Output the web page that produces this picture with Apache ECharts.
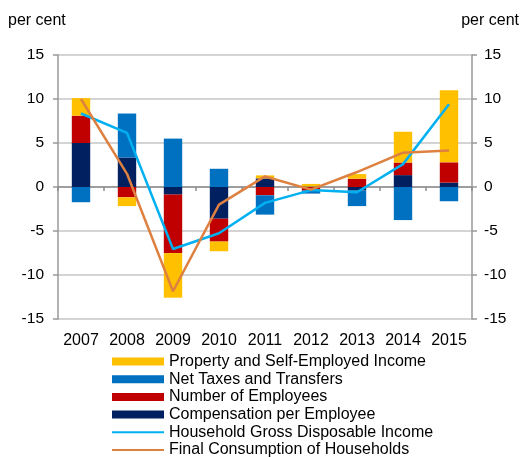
<!DOCTYPE html>
<html>
<head>
<meta charset="utf-8">
<script src="https://cdn.jsdelivr.net/npm/echarts@6/dist/echarts.min.js"></script>
<style>
  html, body { margin: 0; padding: 0; background: #fff; }
  #chart { width: 521px; height: 457px; }
</style>
</head>
<body>
<div id="chart"></div>
<script>
var years = ['2007', '2008', '2009', '2010', '2011', '2012', '2013', '2014', '2015'];
var yTicks = [-15, 15, 5]; // min, max, step

// stacked contributions (per cent)
var compensation = [5.0, 3.35, -0.86, -3.6, 0.98, 0.05, -0.4, 1.35, 0.5];
var employees = [3.1, -1.17, -6.65, -2.6, -0.94, -0.4, 0.94, 1.43, 2.3];
var netTaxes = [-1.73, 5.0, 5.5, 2.07, -2.2, -0.35, -1.77, -3.76, -1.62];
var property = [2.0, -1.0, -5.07, -1.1, 0.34, 0.3, 0.53, 3.5, 8.2];

// lines
var hgdi = [8.35, 6.15, -7.05, -5.25, -1.8, -0.35, -0.6, 2.6, 9.4];
var consumption = [10.0, 1.5, -11.85, -2.0, 1.2, -0.3, 1.7, 3.9, 4.15];

var FONT = '"Liberation Sans", Arial, sans-serif';

var chart = echarts.init(document.getElementById('chart'));

function bar(name, data, color) {
  return {
    name: name, type: 'bar', stack: 'c', data: data,
    xAxisIndex: 0, yAxisIndex: 0,
    barWidth: '40%',
    itemStyle: { color: color },
    emphasis: { disabled: true }
  };
}
function line(name, data, color) {
  return {
    name: name, type: 'line', data: data,
    xAxisIndex: 0, yAxisIndex: 0,
    symbol: 'none', z: 5,
    lineStyle: { color: color, width: 2.5 },
    itemStyle: { color: color },
    emphasis: { disabled: true }
  };
}

function yAxis(side, margin) {
  return {
    type: 'value', position: side,
    min: yTicks[0], max: yTicks[1], interval: yTicks[2],
    axisLine: { show: true, lineStyle: { color: '#999', width: 1.5 } },
    axisTick: { show: true, length: 5, lineStyle: { color: '#999', width: 1.5 } },
    axisLabel: { color: '#000', fontSize: 15.5, fontFamily: FONT, margin: margin },
    splitLine: { show: side === 'left', lineStyle: { color: '#c6c6c6', width: 1.5 } }
  };
}

var option = {
  animation: false,
  backgroundColor: '#fff',
  textStyle: { fontFamily: FONT },
  grid: { left: 58, right: 49, top: 55, bottom: 138 },
  legend: {
    orient: 'vertical', left: 111, top: 353.5, height: 140, padding: 0,
    itemWidth: 52, itemHeight: 8, itemGap: 1.7, itemTextGap: 5,
    textStyle: { fontSize: 16, color: '#000', fontFamily: FONT, lineHeight: 16 },
    data: [
      { name: 'Property and Self-Employed Income', icon: 'rect' },
      { name: 'Net Taxes and Transfers', icon: 'rect' },
      { name: 'Number of Employees', icon: 'rect' },
      { name: 'Compensation per Employee', icon: 'rect' },
      { name: 'Household Gross Disposable Income', itemStyle: { opacity: 0 } },
      { name: 'Final Consumption of Households', itemStyle: { opacity: 0 } }
    ]
  },
  graphic: [
    { type: 'text', left: 8, top: 13, style: { text: 'per cent', fontSize: 16, fontFamily: FONT, fill: '#000' } },
    { type: 'text', right: 2, top: 13, style: { text: 'per cent', fontSize: 16, fontFamily: FONT, fill: '#000' } }
  ],
  xAxis: [
    {
      type: 'category', data: years, position: 'bottom',
      axisLine: { show: false, onZero: false },
      axisTick: { show: false },
      axisLabel: { color: '#000', fontSize: 16, fontFamily: FONT, margin: 14, interval: 0 }
    },
    {
      type: 'category', data: years, position: 'top',
      axisLine: { show: true, onZero: true, lineStyle: { color: '#8c8c8c', width: 1.5 } },
      axisTick: { show: true, inside: true, length: 4, lineStyle: { color: '#8c8c8c', width: 1.5 } },
      axisLabel: { show: false }
    }
  ],
  yAxis: [yAxis('left', 14), yAxis('right', 12)],
  series: [
    bar('Compensation per Employee', compensation, '#002060'),
    bar('Number of Employees', employees, '#c00000'),
    bar('Net Taxes and Transfers', netTaxes, '#0070c0'),
    bar('Property and Self-Employed Income', property, '#ffc000'),
    line('Household Gross Disposable Income', hgdi, '#00b0f0'),
    line('Final Consumption of Households', consumption, '#dd8040')
  ]
};

chart.setOption(option);
</script>
</body>
</html>
